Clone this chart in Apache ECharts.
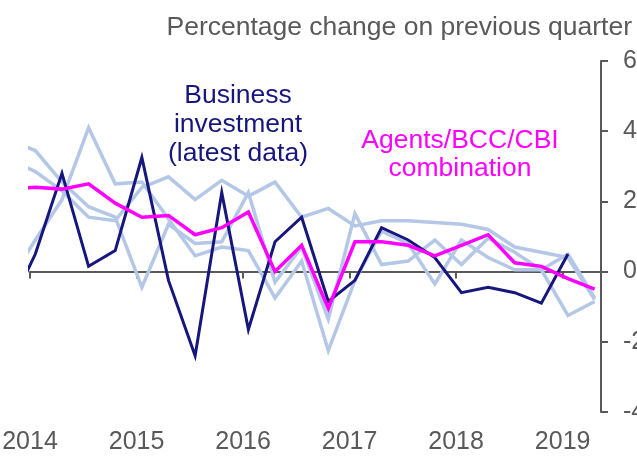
<!DOCTYPE html>
<html>
<head>
<meta charset="utf-8">
<title>Business investment and survey indicators</title>
<script src="https://cdn.jsdelivr.net/npm/echarts@6/dist/echarts.min.js"></script>
<style>
	html, body { margin: 0; padding: 0; background: #fff; }
	#chart { width: 637px; height: 456px; }
</style>
</head>
<body>
<div id="chart"></div>
<script>
// Quarters shown (the first one sits just off the left edge and gets clipped)
var quarters = [
	'2013 Q4',
	'2014 Q1', '2014 Q2', '2014 Q3', '2014 Q4',
	'2015 Q1', '2015 Q2', '2015 Q3', '2015 Q4',
	'2016 Q1', '2016 Q2', '2016 Q3', '2016 Q4',
	'2017 Q1', '2017 Q2', '2017 Q3', '2017 Q4',
	'2018 Q1', '2018 Q2', '2018 Q3', '2018 Q4',
	'2019 Q1', '2019 Q2'
];

// Business investment, latest data (% change on previous quarter)
var businessInvestment = [-1.1, 0.5, 2.8, 0.15, 0.6, 3.25, -0.25, -2.4, 2.25, -1.65, 0.85, 1.55, -0.85, -0.25, 1.25, 0.9, 0.4, -0.6, -0.45, -0.6, -0.9, 0.5, null];

// Agents/BCC/CBI combination
var surveyCombination = [2.35, 2.4, 2.35, 2.5, 1.95, 1.55, 1.6, 1.05, 1.25, 1.7, 0.0, 0.75, -1.05, 0.85, 0.85, 0.75, 0.45, 0.75, 1.05, 0.25, 0.15, -0.2, -0.5];

// The individual survey indicators (light blue)
var surveyA = [3.75, 3.45, 2.55, 1.85, 1.55, -0.45, 1.35, 0.8, 0.85, 2.25, -0.3, 0.7, -1.35, 1.65, 0.2, 0.3, 0.9, 0.2, 0.95, 0.55, 0.05, 0.5, -0.75];
var surveyB = [3.2, 2.85, 2.3, 1.55, 1.45, 2.4, 2.7, 2.05, 2.6, 2.15, 2.55, 1.55, 1.8, 1.3, 1.45, 1.45, 1.4, 1.35, 1.2, 0.7, 0.55, 0.4, -0.8];
var surveyC = [-0.3, 0.9, 2.05, 4.1, 2.5, 2.55, 1.5, 0.45, 0.7, 0.6, -0.75, 0.3, -2.25, -0.25, 1.15, 0.8, -0.35, 0.9, 0.4, 0.05, 0.05, -1.25, -0.85];

var yearTicks = [2014, 2015, 2016, 2017, 2018, 2019];
var yTicks = [-4, -2, 0, 2, 4, 6];

( function () {
	var FONT = '"Liberation Sans", Arial, sans-serif';
	var GREY = '#595959';
	var NAVY = '#16167c';
	var PINK = '#ff00ff';
	var PALE = '#b4c7e7';

	// quarter label -> position in years (dates sit early in the quarter)
	function quarterToYear( label ) {
		var parts = label.split( ' Q' );
		return Number( parts[0] ) + ( Number( parts[1] ) - 1 ) / 4 + 0.05;
	}

	function pairs( values ) {
		var out = [];
		for ( var i = 0; i < quarters.length; i++ ) {
			if ( values[i] === null || values[i] === undefined ) continue;
			out.push( [ quarterToYear( quarters[i] ), values[i] ] );
		}
		return out;
	}

	function lineSeries( name, values, color, width, z ) {
		return {
			name: name,
			type: 'line',
			data: pairs( values ),
			symbol: 'none',
			clip: true,
			z: z,
			lineStyle: { color: color, width: width, join: 'miter' },
			emphasis: { disabled: true }
		};
	}

	// centred block of text, x/y is the top centre
	function label( text, x, y, color, lineHeight ) {
		return {
			type: 'text',
			x: x,
			y: y,
			style: {
				text: text,
				fill: color,
				font: '26.5px ' + FONT,
				align: 'center',
				verticalAlign: 'top',
				lineHeight: lineHeight
			}
		};
	}

	var chart = echarts.init( document.getElementById( 'chart' ), null, { renderer: 'canvas' } );

	var option = {
		animation: false,
		textStyle: { fontFamily: FONT },
		grid: { left: 30, right: 36, top: 61, bottom: 44, containLabel: false, outerBoundsMode: 'none' },
		xAxis: [
			{
				// the zero line with its year ticks
				type: 'value',
				min: yearTicks[0],
				max: 2019.36,
				interval: 1,
				position: 'bottom',
				axisLine: { onZero: true, lineStyle: { color: GREY, width: 2 } },
				axisTick: { show: true, inside: false, length: 7, lineStyle: { color: GREY, width: 2 } },
				axisLabel: { show: false },
				splitLine: { show: false }
			},
			{
				// year labels along the bottom
				type: 'value',
				min: yearTicks[0],
				max: 2019.36,
				interval: 1,
				position: 'bottom',
				axisLine: { show: false, onZero: false },
				axisTick: { show: false },
				splitLine: { show: false },
				axisLabel: {
					color: GREY,
					fontSize: 25,
					fontFamily: FONT,
					margin: 18,
					showMaxLabel: false,
					formatter: function ( v ) {
						return yearTicks.indexOf( Math.round( v ) ) >= 0 ? String( Math.round( v ) ) : '';
					}
				}
			}
		],
		yAxis: {
			type: 'value',
			position: 'right',
			min: yTicks[0],
			max: yTicks[yTicks.length - 1],
			interval: 2,
			axisLine: { show: true, onZero: false, lineStyle: { color: GREY, width: 2 } },
			axisTick: { show: true, inside: false, length: 7, lineStyle: { color: GREY, width: 2 } },
			axisLabel: { color: GREY, fontSize: 25, fontFamily: FONT, margin: 22, align: 'left' },
			splitLine: { show: false }
		},
		series: [
			lineSeries( 'Survey A', surveyA, PALE, 3.5, 1 ),
			lineSeries( 'Survey B', surveyB, PALE, 3.5, 1 ),
			lineSeries( 'Survey C', surveyC, PALE, 3.5, 1 ),
			lineSeries( 'Business investment (latest data)', businessInvestment, NAVY, 3, 2 ),
			lineSeries( 'Agents/BCC/CBI combination', surveyCombination, PINK, 3.5, 3 )
		],
		graphic: [
			{
				type: 'text',
				right: 5,
				top: 14,
				style: {
					text: 'Percentage change on previous quarter',
					fill: GREY,
					font: '26.5px ' + FONT
				}
			},
			label( 'Business\ninvestment\n(latest data)', 238, 81, NAVY, 29 ),
			label( 'Agents/BCC/CBI\ncombination', 460, 127, PINK, 28 )
		]
	};

	chart.setOption( option );
}() );
</script>
</body>
</html>
